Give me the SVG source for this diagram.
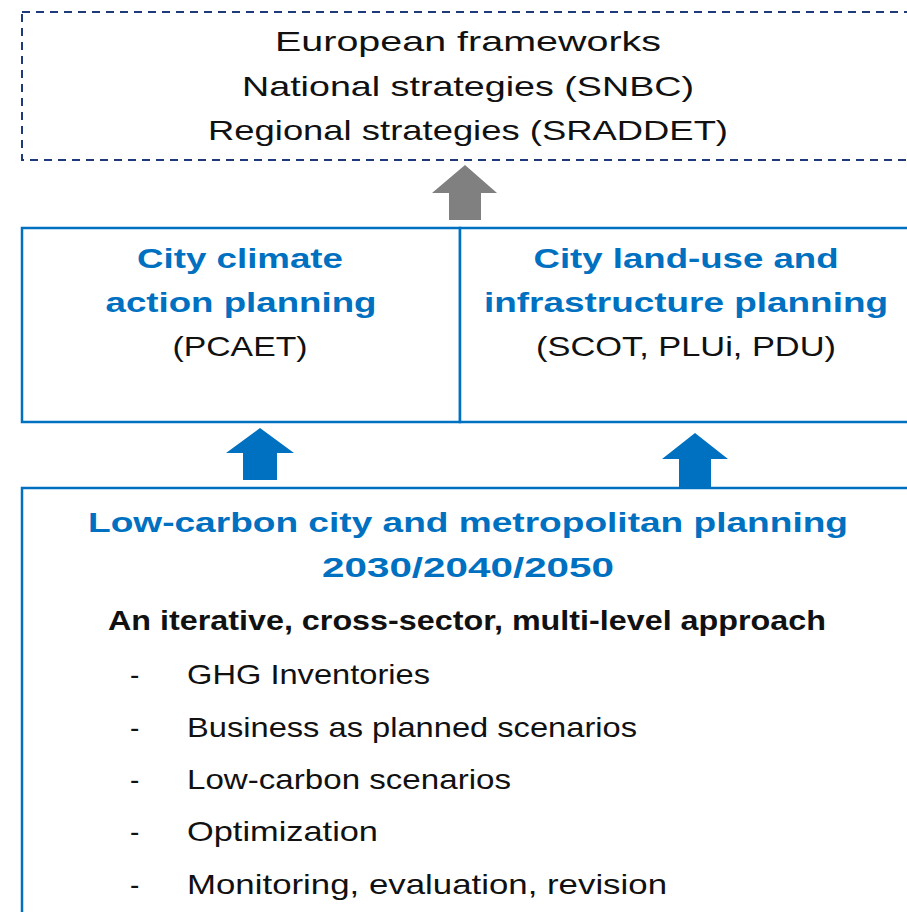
<svg xmlns="http://www.w3.org/2000/svg" width="907" height="912" viewBox="0 0 907 912">
<style>
text{font-family:"Liberation Sans",Arial,sans-serif;font-size:28px;fill:#111;text-anchor:middle}
.h{font-weight:bold;fill:#0070C0}
.b{font-weight:bold}
.l{text-anchor:start}
.box{fill:#fff;stroke:#0070C0;stroke-width:2.5}
</style>
<rect width="907" height="912" fill="#fff"/>
<g id="frameworks">
<rect x="22" y="12" width="900" height="148" fill="none" stroke="#1F3A7A" stroke-width="2" stroke-dasharray="8,6"/>
<text x="468" y="51" textLength="386" lengthAdjust="spacingAndGlyphs">European frameworks</text>
<text x="468" y="96" textLength="452" lengthAdjust="spacingAndGlyphs">National strategies (SNBC)</text>
<text x="468" y="140" textLength="520" lengthAdjust="spacingAndGlyphs">Regional strategies (SRADDET)</text>
</g>
<g id="climate">
<rect class="box" x="22" y="228" width="438" height="194"/>
<text class="h" x="240" y="268" textLength="206" lengthAdjust="spacingAndGlyphs">City climate</text>
<text class="h" x="241" y="312" textLength="271" lengthAdjust="spacingAndGlyphs">action planning</text>
<text x="240" y="356" textLength="135" lengthAdjust="spacingAndGlyphs">(PCAET)</text>
</g>
<g id="landuse">
<rect class="box" x="460" y="228" width="460" height="194"/>
<text class="h" x="686" y="268" textLength="305" lengthAdjust="spacingAndGlyphs">City land-use and</text>
<text class="h" x="686" y="312" textLength="404" lengthAdjust="spacingAndGlyphs">infrastructure planning</text>
<text x="686" y="356" textLength="300" lengthAdjust="spacingAndGlyphs">(SCOT, PLUi, PDU)</text>
</g>
<g id="lowcarbon">
<rect class="box" x="22" y="488" width="900" height="440"/>
<text class="h" x="468" y="532" textLength="760" lengthAdjust="spacingAndGlyphs">Low-carbon city and metropolitan planning</text>
<text class="h" x="468" y="577" textLength="292" lengthAdjust="spacingAndGlyphs">2030/2040/2050</text>
<text class="b" x="467" y="630" textLength="718" lengthAdjust="spacingAndGlyphs">An iterative, cross-sector, multi-level approach</text>
<g class="l">
<text class="l" x="130" y="684">-</text><text class="l" x="187" y="684" textLength="243" lengthAdjust="spacingAndGlyphs">GHG Inventories</text>
<text class="l" x="130" y="737">-</text><text class="l" x="187" y="737" textLength="450" lengthAdjust="spacingAndGlyphs">Business as planned scenarios</text>
<text class="l" x="130" y="789">-</text><text class="l" x="187" y="789" textLength="324" lengthAdjust="spacingAndGlyphs">Low-carbon scenarios</text>
<text class="l" x="130" y="841">-</text><text class="l" x="187" y="841" textLength="191" lengthAdjust="spacingAndGlyphs">Optimization</text>
<text class="l" x="130" y="894">-</text><text class="l" x="187" y="894" textLength="480" lengthAdjust="spacingAndGlyphs">Monitoring, evaluation, revision</text>
</g>
</g>
<g id="connectors">
<polygon points="465,165 497,193 481,193 481,220 449,220 449,193 432,193" fill="#808080"/>
<polygon points="260,428 294,453 277,453 277,480 243,480 243,453 226,453" fill="#0070C0"/>
<polygon points="695,433 728,459 711,459 711,487 679,487 679,459 662,459" fill="#0070C0"/>
</g>
</svg>
